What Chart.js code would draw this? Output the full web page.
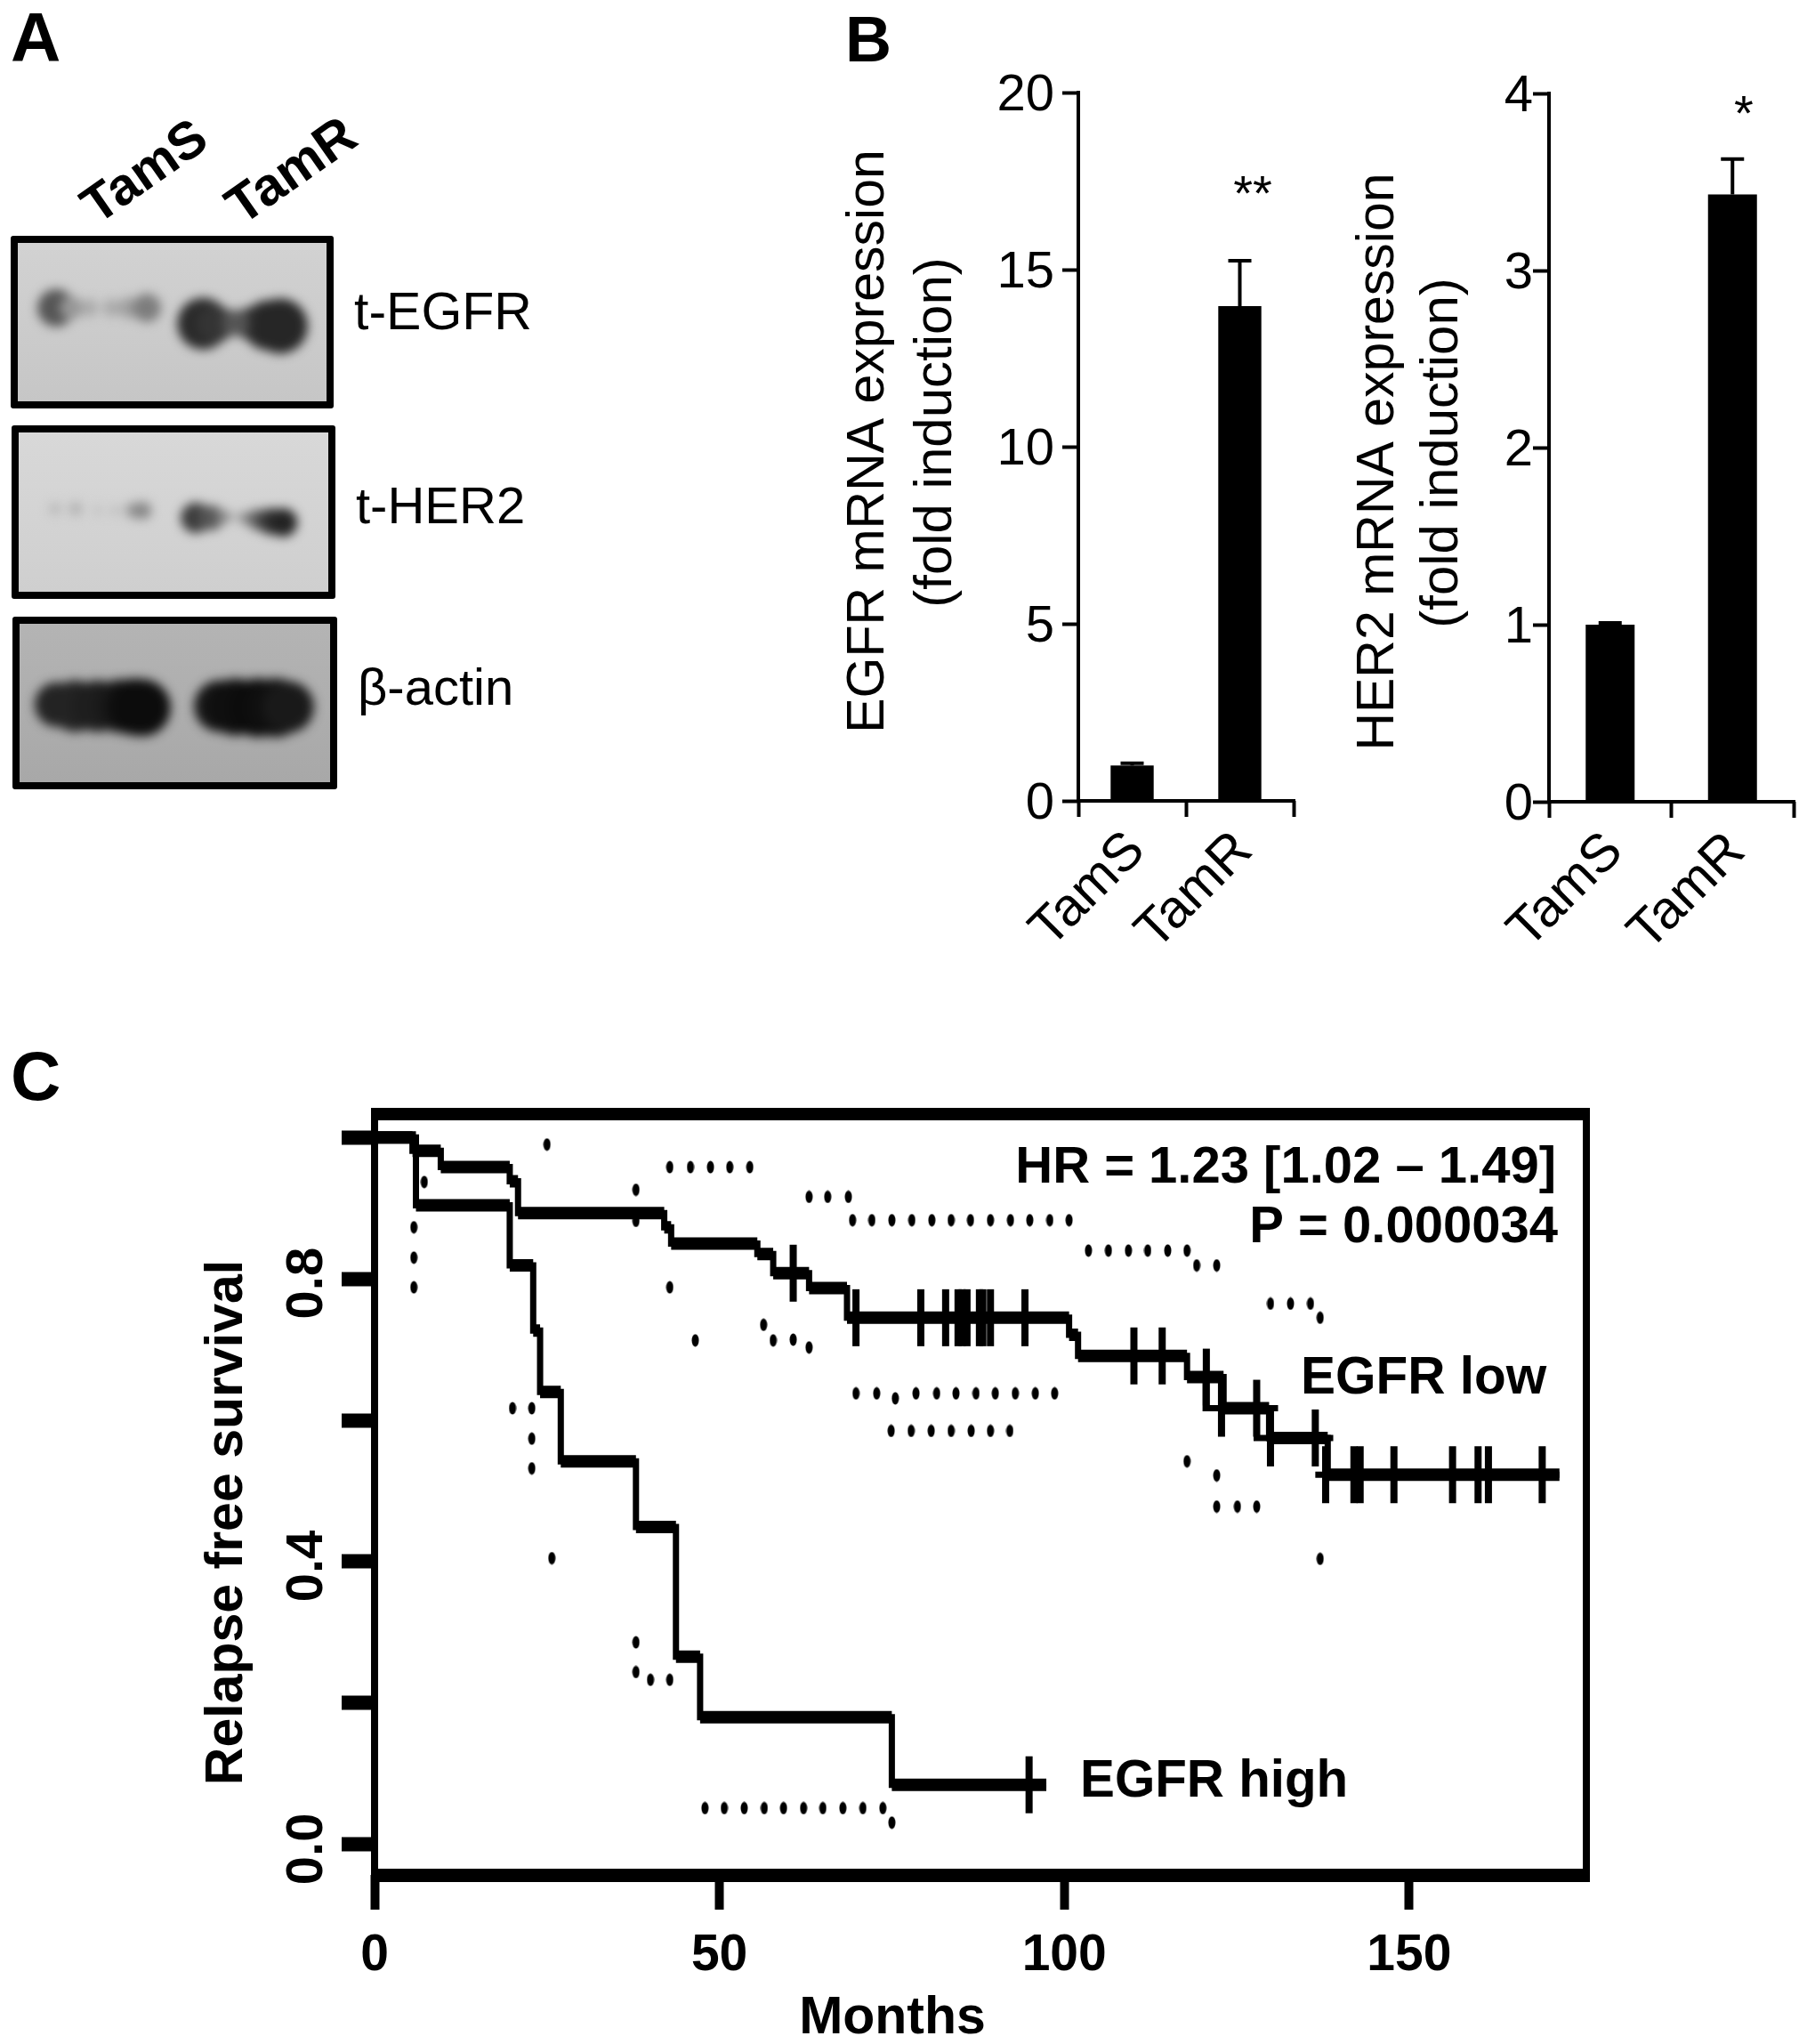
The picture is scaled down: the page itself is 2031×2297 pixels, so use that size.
<!DOCTYPE html>
<html>
<head>
<meta charset="utf-8">
<title>EGFR / HER2 in TamS and TamR</title>
<script src="https://cdn.jsdelivr.net/npm/chart.js@4/dist/chart.umd.min.js"></script>
<style>
    html, body { margin: 0; padding: 0; background: #fff; }
    #page { position: relative; width: 2031px; height: 2297px; overflow: hidden; }
    #page > canvas { position: absolute; left: 0; top: 0; }
    .blot { position: absolute; box-sizing: border-box; border: 8px solid #000; border-radius: 3px; overflow: hidden; }
    .blot canvas { display: block; filter: blur(6px); }
</style>
</head>
<body>
<div id="page">
    <div class="blot" id="blot1" style="left:12px;top:265px;width:363px;height:194px;background:linear-gradient(#d2d2d2,#c6c6c6)"><canvas id="blotCanvas1" width="347" height="178"></canvas></div>
    <div class="blot" id="blot2" style="left:13px;top:478px;width:364px;height:195px;background:linear-gradient(#d8d8d8,#cfcfcf)"><canvas id="blotCanvas2" width="348" height="179"></canvas></div>
    <div class="blot" id="blot3" style="left:14px;top:693px;width:365px;height:194px;background:linear-gradient(#b4b4b4,#a8a8a8)"><canvas id="blotCanvas3" width="349" height="178"></canvas></div>
    <canvas id="egfrChart" width="2031" height="2297"></canvas>
    <canvas id="her2Chart" width="2031" height="2297"></canvas>
    <canvas id="survivalChart" width="2031" height="2297"></canvas>
</div>
<script>
// panel B
const barLabels = ['TamS', 'TamR'];
const egfrValues = [1.0, 13.97];
const egfrUpper = [1.06, 15.25];
const egfrTicks = [0, 5, 10, 15, 20];
const her2Values = [1.0, 3.43];
const her2Upper = [1.01, 3.63];
const her2Ticks = [0, 1, 2, 3, 4];

// panel C, survival holds from each month until the next one
const lowMonths = [0, 5.5, 9.6, 19.6, 20.8, 42, 43, 55.5, 57.8, 63, 68.5, 100.7, 102, 117.8, 123.1, 129.7, 138.2, 171.8];
const lowSurvival = [1.0, 0.981, 0.958, 0.938, 0.893, 0.873, 0.85, 0.835, 0.808, 0.787, 0.745, 0.721, 0.691, 0.661, 0.617, 0.575, 0.523, 0.523];
const highMonths = [0, 6, 19.6, 23, 24, 27, 37.9, 43.7, 47.2, 75, 97.4];
const highSurvival = [1.0, 0.904, 0.819, 0.727, 0.64, 0.542, 0.449, 0.2656, 0.18, 0.0845, 0.0845];

// the low curve is printed doubled around its late drops
const doubledMonths = [120.5, 120.5, 131, 131, 127.9, 127.9, 139, 139, 136.4, 138.2];
const doubledSurvival = [0.661, 0.617, 0.617, null, 0.617, 0.575, 0.575, null, 0.523, 0.523];

const censorMonths = [60.7, 69.8, 79.2, 82.8, 84.6, 85.2, 85.9, 87.7, 88.2, 89.3, 94.3, 110.1, 114.2, 120.6, 122.8, 127.9, 129.9, 136.4, 137.9, 142, 142.9, 147.8, 156.3, 160, 161.5, 169.3, 94.9];
const censorSurvival = [0.808, 0.745, 0.745, 0.745, 0.745, 0.745, 0.745, 0.745, 0.745, 0.745, 0.745, 0.691, 0.691, 0.661, 0.617, 0.617, 0.575, 0.575, 0.523, 0.523, 0.523, 0.523, 0.523, 0.523, 0.523, 0.523, 0.0845];

// dotted confidence limits
const ciMonths = [25, 7.2, 37.9, 37.9, 42.8, 45.8, 48.7, 51.5, 54.4, 63, 65.7, 68.7,
    69.3, 72.1, 75, 77.9, 80.8, 83.6, 86.4, 89.3, 92.2, 95, 97.9, 100.7,
    103.5, 106.4, 109.3, 112.1, 115, 117.8, 119.2, 122.1, 129.9, 132.8, 135.7, 137.1,
    5.7, 5.7, 5.7, 42.8, 56.4, 46.5, 57.8, 60.7, 63,
    69.8, 72.8, 75.5, 78.5, 81.5, 84.3, 87.2, 90, 92.9, 95.8, 98.6,
    74.9, 77.8, 80.7, 83.6, 86.5, 89.3, 92.1,
    117.8, 122.1, 122.1, 125.1, 127.9, 137.1,
    20, 22.8, 22.8, 22.8, 25.7, 37.9, 37.9, 40, 42.8,
    47.9, 50.7, 53.6, 56.5, 59.3, 62.2, 65, 67.9, 70.8, 73.7, 75];
const ciSurvival = [0.99, 0.937, 0.926, 0.882, 0.958, 0.958, 0.958, 0.958, 0.958, 0.916, 0.916, 0.916,
    0.883, 0.883, 0.883, 0.883, 0.883, 0.883, 0.883, 0.883, 0.883, 0.883, 0.883, 0.883,
    0.84, 0.84, 0.84, 0.84, 0.84, 0.84, 0.819, 0.819, 0.765, 0.765, 0.765, 0.745,
    0.873, 0.83, 0.788, 0.788, 0.735, 0.713, 0.713, 0.714, 0.703,
    0.638, 0.638, 0.631, 0.638, 0.638, 0.638, 0.638, 0.638, 0.638, 0.638, 0.638,
    0.585, 0.585, 0.585, 0.585, 0.585, 0.585, 0.585,
    0.542, 0.522, 0.478, 0.478, 0.478, 0.404,
    0.617, 0.617, 0.574, 0.532, 0.405, 0.286, 0.244, 0.233, 0.233,
    0.0515, 0.0515, 0.0515, 0.0515, 0.0515, 0.0515, 0.0515, 0.0515, 0.0515, 0.0515, 0.031];

const monthTicks = [0, 50, 100, 150];
const survivalTicks = [0, 0.2, 0.4, 0.6, 0.8, 1.0];
const survivalLabels = ['0.0', '', '0.4', '', '0.8', ''];

// panel A bands, x and y are percent of the blot
const band1X = [12.4, 17.3, 23.1, 30.3, 36, 41.8, 60, 64, 76, 81, 85, 70.6];
const band1Y = [41, 41, 41, 41, 41, 41, 51, 51, 51, 52, 52.5, 50.5];
const band1Size = [21, 13, 10, 10, 12, 16, 29, 21, 19, 28, 31, 15];
const band1Gray = [85, 150, 170, 170, 160, 125, 42, 52, 58, 45, 38, 85];
const band2X = [11.8, 18.4, 25.6, 31.3, 37.1, 40];
const band2Y = [48, 48, 49, 49, 49, 49];
const band2Size = [7, 8, 6, 6, 9, 10];
const band2Gray = [185, 180, 195, 190, 150, 135];
const band2RX = [57.2, 62.1, 65.8, 69, 73, 77.3, 81.6, 85.4];
const band2RY = [53.6, 53.6, 53, 53, 53.6, 54.7, 55.9, 56.5];
const band2RSize = [17, 14, 8, 5, 7, 12, 15, 16];
const band2RGray = [60, 85, 130, 175, 140, 100, 55, 35];
const band3X = [12, 18, 25.2, 32.4, 37, 39.5, 64.5, 69.6, 76.8, 82.5, 86.5];
const band3Y = [51, 52, 52, 52, 52.5, 53, 52, 52.5, 53, 53, 52.5];
const band3Size = [25, 29, 29, 30, 32, 32, 29, 32, 33, 33, 29];
const band3Gray = [35, 35, 30, 25, 15, 12, 22, 15, 12, 15, 25];

const fontFamily = '"Liberation Sans", Arial, sans-serif';
Chart.defaults.font.family = fontFamily;
Chart.defaults.color = '#000';
Chart.defaults.animation = false;

// writes text at page positions
const pageText = {
    id: 'pageText',
    afterDraw(chart, args, opts) {
        const ctx = chart.ctx;
        opts.items.forEach(item => {
            ctx.save();
            ctx.translate(item.x, item.y);
            ctx.rotate((item.rot || 0) * Math.PI / 180);
            ctx.font = item.font + ' ' + fontFamily;
            ctx.fillStyle = '#000';
            ctx.textAlign = item.align || 'left';
            ctx.textBaseline = item.base || 'alphabetic';
            ctx.fillText(item.text, 0, 0);
            ctx.restore();
        });
    }
};

// axis lines and upper error bars, from the scales
const errorBars = {
    id: 'errorBars',
    afterDatasetsDraw(chart, args, opts) {
        const ctx = chart.ctx;
        const a = chart.chartArea;
        const bars = chart.getDatasetMeta(0).data;
        ctx.save();
        ctx.strokeStyle = '#000';
        ctx.lineWidth = 4;
        ctx.beginPath();
        ctx.moveTo(a.left, a.top - 2);
        ctx.lineTo(a.left, a.bottom);
        ctx.moveTo(a.left - 2, a.bottom);
        ctx.lineTo(a.right + 2, a.bottom);
        opts.upper.forEach((value, i) => {
            const x = bars[i].x;
            const top = chart.scales.y.getPixelForValue(value);
            ctx.moveTo(x, bars[i].y);
            ctx.lineTo(x, top);
            ctx.moveTo(x - 13, top);
            ctx.lineTo(x + 13, top);
        });
        ctx.stroke();
        ctx.restore();
    }
};

// thick R style box round the plot
const boxFrame = {
    id: 'boxFrame',
    afterDraw(chart) {
        const ctx = chart.ctx;
        const a = chart.chartArea;
        ctx.save();
        ctx.fillStyle = '#000';
        ctx.fillRect(a.left - 4, a.top - 7, a.width + 8, 14);
        ctx.fillRect(a.left - 4, a.bottom - 7, a.width + 8, 15);
        ctx.fillRect(a.left - 4, a.top - 7, 8, a.height + 14);
        ctx.fillRect(a.right - 4, a.top - 7, 8, a.height + 14);
        ctx.restore();
    }
};

function makeBarChart(id, values, upper, ticks, maxValue, area, tickPadding, texts) {
    return new Chart(document.getElementById(id), {
        type: 'bar',
        plugins: [errorBars, pageText],
        data: {
            labels: barLabels,
            datasets: [{
                data: values,
                backgroundColor: '#000',
                barPercentage: 0.4,
                categoryPercentage: 1
            }]
        },
        options: {
            responsive: false,
            events: [],
            layout: { padding: { top: area.top, right: 2031 - area.right } },
            plugins: {
                legend: { display: false },
                tooltip: { enabled: false },
                errorBars: { upper: upper },
                pageText: { items: texts }
            },
            scales: {
                x: {
                    afterFit: s => { s.height = 2297 - area.bottom; },
                    grid: { offset: true, drawOnChartArea: false, tickLength: 18, tickWidth: 4, tickColor: '#000' },
                    border: { display: false },
                    ticks: { font: { size: 60 }, minRotation: 45, maxRotation: 45, padding: 3, labelOffset: 5 }
                },
                y: {
                    min: 0,
                    max: maxValue,
                    afterFit: s => { s.width = area.left; },
                    afterBuildTicks: s => { s.ticks = ticks.map(v => ({ value: v })); },
                    grid: { drawOnChartArea: false, tickLength: 18, tickWidth: 4, tickColor: '#000' },
                    border: { display: false },
                    ticks: { font: { size: 58 }, padding: tickPadding, labelOffset: 4 }
                }
            }
        }
    });
}

makeBarChart('egfrChart', egfrValues, egfrUpper, egfrTicks, 20,
    { left: 1212, right: 1454, top: 104, bottom: 900 }, 9, [
        { text: 'B', x: 950, y: 69, font: 'bold 72px' },
        { text: 'EGFR mRNA expression', x: 993, y: 496, rot: -90, align: 'center', font: '59px' },
        { text: '(fold induction)', x: 1069, y: 486, rot: -90, align: 'center', font: '60px' },
        { text: '**', x: 1408, y: 236, align: 'center', font: '56px' }
    ]);

makeBarChart('her2Chart', her2Values, her2Upper, her2Ticks, 4,
    { left: 1741, right: 2016, top: 105, bottom: 901 }, 0, [
        { text: 'HER2 mRNA expression', x: 1566, y: 519, rot: -90, align: 'center', font: '59px' },
        { text: '(fold induction)', x: 1638, y: 509, rot: -90, align: 'center', font: '60px' },
        { text: '*', x: 1960, y: 146, align: 'center', font: '56px' }
    ]);

// flat parts of a step curve, drawn heavier than the drops
function flatSegments(months, survival) {
    const points = [];
    for (let i = 0; i < months.length - 1; i++) {
        points.push({ x: months[i], y: survival[i] });
        points.push({ x: months[i + 1], y: survival[i] });
        points.push({ x: months[i + 1], y: null });
    }
    return points;
}

function toPoints(xs, ys) {
    return xs.map((x, i) => ({ x: x, y: ys[i] }));
}

function stepDataset(months, survival) {
    return { data: toPoints(months, survival), stepped: true, borderColor: '#000', borderWidth: 7, pointRadius: 0 };
}

function flatDataset(months, survival) {
    return { data: flatSegments(months, survival), borderColor: '#000', borderWidth: 14, pointRadius: 0, spanGaps: false };
}

// small upright oval for the dotted limits
const dotImage = document.createElement('canvas');
dotImage.width = 9;
dotImage.height = 15;
const dotCtx = dotImage.getContext('2d');
dotCtx.fillStyle = '#000';
dotCtx.beginPath();
dotCtx.ellipse(4.5, 7.5, 4, 7, 0, 0, Math.PI * 2);
dotCtx.fill();

new Chart(document.getElementById('survivalChart'), {
    type: 'line',
    plugins: [boxFrame, pageText],
    data: {
        datasets: [
            stepDataset(lowMonths, lowSurvival),
            flatDataset(lowMonths, lowSurvival),
            stepDataset(highMonths, highSurvival),
            flatDataset(highMonths, highSurvival),
            { data: toPoints(doubledMonths, doubledSurvival), borderColor: '#000', borderWidth: 7, pointRadius: 0, spanGaps: false },
            {
                data: toPoints(censorMonths, censorSurvival),
                showLine: false,
                pointStyle: 'line',
                pointRotation: 90,
                pointRadius: 32,
                pointBorderWidth: 8,
                pointBorderColor: '#000'
            },
            {
                data: toPoints(ciMonths, ciSurvival),
                showLine: false,
                pointStyle: dotImage,
                pointRadius: 5
            }
        ]
    },
    options: {
        responsive: false,
        events: [],
        layout: { padding: { top: 1252, right: 248 } },
        plugins: {
            legend: { display: false },
            tooltip: { enabled: false },
            pageText: {
                items: [
                    // panel A labels live here too, this canvas covers the page
                    { text: 'A', x: 12, y: 69, font: 'bold 78px' },
                    { text: 'TamS', x: 164, y: 195, rot: -35, align: 'center', base: 'middle', font: 'bold 59px' },
                    { text: 'TamR', x: 329, y: 194, rot: -35, align: 'center', base: 'middle', font: 'bold 60px' },
                    { text: 't-EGFR', x: 398, y: 370, font: '59px' },
                    { text: 't-HER2', x: 400, y: 588, font: '58px' },
                    { text: 'β-actin', x: 402, y: 792, font: '58px' },
                    { text: 'C', x: 12, y: 1236, font: 'bold 78px' },
                    { text: 'HR = 1.23 [1.02 – 1.49]', x: 1749, y: 1329, align: 'right', font: 'bold 58px' },
                    { text: 'P = 0.000034', x: 1751, y: 1396, align: 'right', font: 'bold 58px' },
                    { text: 'EGFR low', x: 1462, y: 1566, font: 'bold 58.5px' },
                    { text: 'EGFR high', x: 1214, y: 2019, font: 'bold 58.3px' },
                    { text: 'Relapse free survival', x: 272, y: 1711, rot: -90, align: 'center', font: 'bold 59px' },
                    { text: 'Months', x: 1003, y: 2285, align: 'center', font: 'bold 59px' }
                ]
            }
        },
        scales: {
            x: {
                type: 'linear',
                min: 0,
                max: 175.7,
                afterFit: s => { s.height = 2297 - 2107; },
                afterBuildTicks: s => { s.ticks = monthTicks.map(v => ({ value: v })); },
                grid: { drawOnChartArea: false, tickLength: 39, tickWidth: 10, tickColor: '#000' },
                border: { display: false },
                ticks: { font: { size: 57, weight: 'bold' }, maxRotation: 0, padding: 18 }
            },
            y: {
                min: -0.043,
                max: 1.033,
                afterFit: s => { s.width = 421; },
                afterBuildTicks: s => { s.ticks = survivalTicks.map(v => ({ value: v })); },
                grid: { drawOnChartArea: false, tickLength: 37, tickWidth: 16, tickColor: '#000' },
                border: { display: false },
                ticks: {
                    font: { size: 58, weight: 'bold' },
                    minRotation: 90,
                    crossAlign: 'center',
                    padding: -2,
                    labelOffset: 5,
                    callback: (value, i) => survivalLabels[i]
                }
            }
        }
    }
});

// western blots: each band is a row of blurred grey blobs
function makeBlot(id, xs, ys, sizes, grays) {
    new Chart(document.getElementById(id), {
        type: 'bubble',
        data: {
            datasets: [{
                data: xs.map((x, i) => ({ x: x, y: ys[i], r: sizes[i] })),
                backgroundColor: grays.map(g => 'rgb(' + g + ',' + g + ',' + g + ')'),
                borderWidth: 0
            }]
        },
        options: {
            responsive: false,
            events: [],
            layout: { autoPadding: false },
            plugins: { legend: { display: false }, tooltip: { enabled: false } },
            scales: {
                x: { display: false, min: 0, max: 100 },
                y: { display: false, min: 0, max: 100, reverse: true }
            }
        }
    });
}

makeBlot('blotCanvas1', band1X, band1Y, band1Size, band1Gray);
makeBlot('blotCanvas2', band2X.concat(band2RX), band2Y.concat(band2RY), band2Size.concat(band2RSize), band2Gray.concat(band2RGray));
makeBlot('blotCanvas3', band3X, band3Y, band3Size, band3Gray);
</script>
</body>
</html>
